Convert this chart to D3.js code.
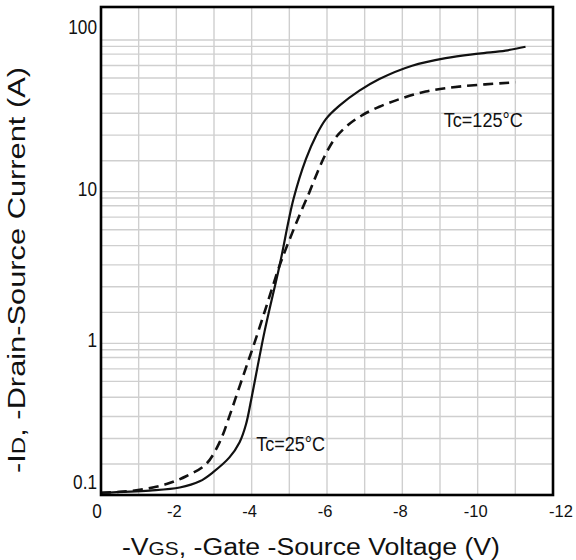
<!DOCTYPE html>
<html>
<head>
<meta charset="utf-8">
<script src="https://cdn.jsdelivr.net/npm/d3@7"></script>
<style>
  body { margin: 0; background: #fff; }
  text { font-family: "Liberation Sans", Arial, sans-serif; fill: #111; }
</style>
</head>
<body>
<script>
  // Tc = 25°C (solid)
  let vgs25 = [0, -1.29, -2.09, -2.62, -2.97, -3.41, -3.68, -3.85, -3.99, -4.34, -4.74, -5.11,
    -5.44, -5.71, -5.97, -6.33, -6.86, -7.39, -8.26, -9.15, -10.03, -10.74, -11.27];
  let id25 = [0.1035, 0.107, 0.112, 0.123, 0.141, 0.177, 0.223, 0.293, 0.428, 1.19, 3.25, 8.94,
    16.4, 23.4, 30.1, 36.9, 46.3, 55.3, 67.7, 75.9, 81.3, 85.1, 90.2];

  // Tc = 125°C (dashed)
  let vgs125 = [0, -0.5, -1.12, -1.74, -2.26, -2.79, -3.15, -3.41, -3.63, -3.85, -4.03, -4.38,
    -4.74, -5.0, -5.27, -5.53, -5.75, -5.97, -6.24, -6.59, -6.94, -7.39, -7.92, -8.62, -9.59, -11.0];
  let id125 = [0.1035, 0.105, 0.109, 0.118, 0.133, 0.160, 0.223, 0.331, 0.479, 0.692, 0.933, 1.72,
    3.25, 4.79, 7.0, 9.89, 13.5, 17.8, 22.9, 27.9, 32.0, 36.3, 40.7, 45.7, 49.5, 52.6];

  let xTicks = [0, -2, -4, -6, -8, -10, -12];
  let xGrid = [-1, -2, -3, -4, -5, -6, -7, -8, -9, -10, -11];
  let yTicks = [0.1, 1, 10, 100];
  let yTickLabels = ["0.1", "1", "10", "100"];
  let decades = [0.1, 1, 10];
  // minor grid lines within each decade, as drawn in the source
  let gridMantissa = [1.6, 2.36, 3.29, 4.41, 5.61, 6.79, 8.07, 9.08, 10];

  let labels = [
    { text: "Tc=125°C", v: -9.1, i: 26.5 },
    { text: "Tc=25°C", v: -4.12, i: 0.195 }
  ];

  let svg = d3.select("body").append("svg")
    .attr("width", 576)
    .attr("height", 560);

  let x = d3.scaleLinear().domain([0, -12]).range([101, 553]);
  let y = d3.scaleLog().domain([0.1, 165]).range([495, 7]);

  // grid
  let grid = svg.append("g")
    .attr("stroke", "#cfcfcf")
    .attr("stroke-width", 1.4);

  grid.selectAll(".vg")
    .data(xGrid)
    .enter()
    .append("line")
    .attr("x1", d => x(d)).attr("x2", d => x(d))
    .attr("y1", y.range()[0]).attr("y2", y.range()[1]);

  let hLines = [];
  decades.forEach(d => gridMantissa.forEach(m => hLines.push(d * m)));
  grid.selectAll(".hg")
    .data(hLines)
    .enter()
    .append("line")
    .attr("x1", x.range()[0]).attr("x2", x.range()[1])
    .attr("y1", d => y(d)).attr("y2", d => y(d));

  // curves
  let line = d3.line()
    .x(d => x(d[0]))
    .y(d => y(d[1]))
    .curve(d3.curveCatmullRom.alpha(0.5));

  svg.append("path")
    .datum(d3.zip(vgs125, id125))
    .attr("d", line)
    .attr("fill", "none")
    .attr("stroke", "#111")
    .attr("stroke-width", 2.6)
    .attr("stroke-dasharray", "10,6");

  svg.append("path")
    .datum(d3.zip(vgs25, id25))
    .attr("d", line)
    .attr("fill", "none")
    .attr("stroke", "#111")
    .attr("stroke-width", 2.2);

  // frame
  svg.append("rect")
    .attr("x", x.range()[0])
    .attr("y", y.range()[1])
    .attr("width", x.range()[1] - x.range()[0])
    .attr("height", y.range()[0] - y.range()[1])
    .attr("fill", "none")
    .attr("stroke", "#000")
    .attr("stroke-width", 2.6);

  // narrow text helper (labels in the source are horizontally condensed)
  function narrowText(px, py, str, anchor, size, sx) {
    return svg.append("g")
      .attr("transform", `translate(${px},${py}) scale(${sx},1)`)
      .append("text")
      .attr("text-anchor", anchor)
      .attr("font-size", size)
      .text(str);
  }

  // y tick labels
  let yNudge = { 0.1: -10, 100: -10 };
  yTicks.forEach((t, k) => {
    narrowText(97, y(t) + 4 + (yNudge[t] || 0), yTickLabels[k], "end", 21, 0.82);
  });

  // x tick labels
  xTicks.forEach(t => {
    if (t === 0) {
      narrowText(x(t) - 4, 518, "0", "middle", 21, 0.82);
    } else {
      svg.append("text")
        .attr("x", x(t) - 2 + (t === -12 ? 10 : 0))
        .attr("y", 517)
        .attr("text-anchor", "middle")
        .attr("font-size", 16.5)
        .text(String(t));
    }
  });

  // annotations
  labels.forEach(l => {
    narrowText(x(l.v), y(l.i), l.text, "start", 21, 0.86);
  });

  // axis titles
  let xt = svg.append("text")
    .attr("x", 311)
    .attr("y", 555)
    .attr("text-anchor", "middle")
    .attr("font-size", 23)
    .attr("textLength", 378)
    .attr("lengthAdjust", "spacingAndGlyphs");
  xt.append("tspan").text("-V");
  xt.append("tspan").attr("font-size", 18).text("GS");
  xt.append("tspan").text(", -Gate -Source Voltage (V)");

  let yt = svg.append("text")
    .attr("transform", "translate(25,270) rotate(-90)")
    .attr("text-anchor", "middle")
    .attr("font-size", 23)
    .attr("textLength", 406)
    .attr("lengthAdjust", "spacingAndGlyphs");
  yt.append("tspan").text("-I");
  yt.append("tspan").attr("font-size", 18).text("D");
  yt.append("tspan").text(", -Drain-Source Current (A)");
</script>
</body>
</html>
